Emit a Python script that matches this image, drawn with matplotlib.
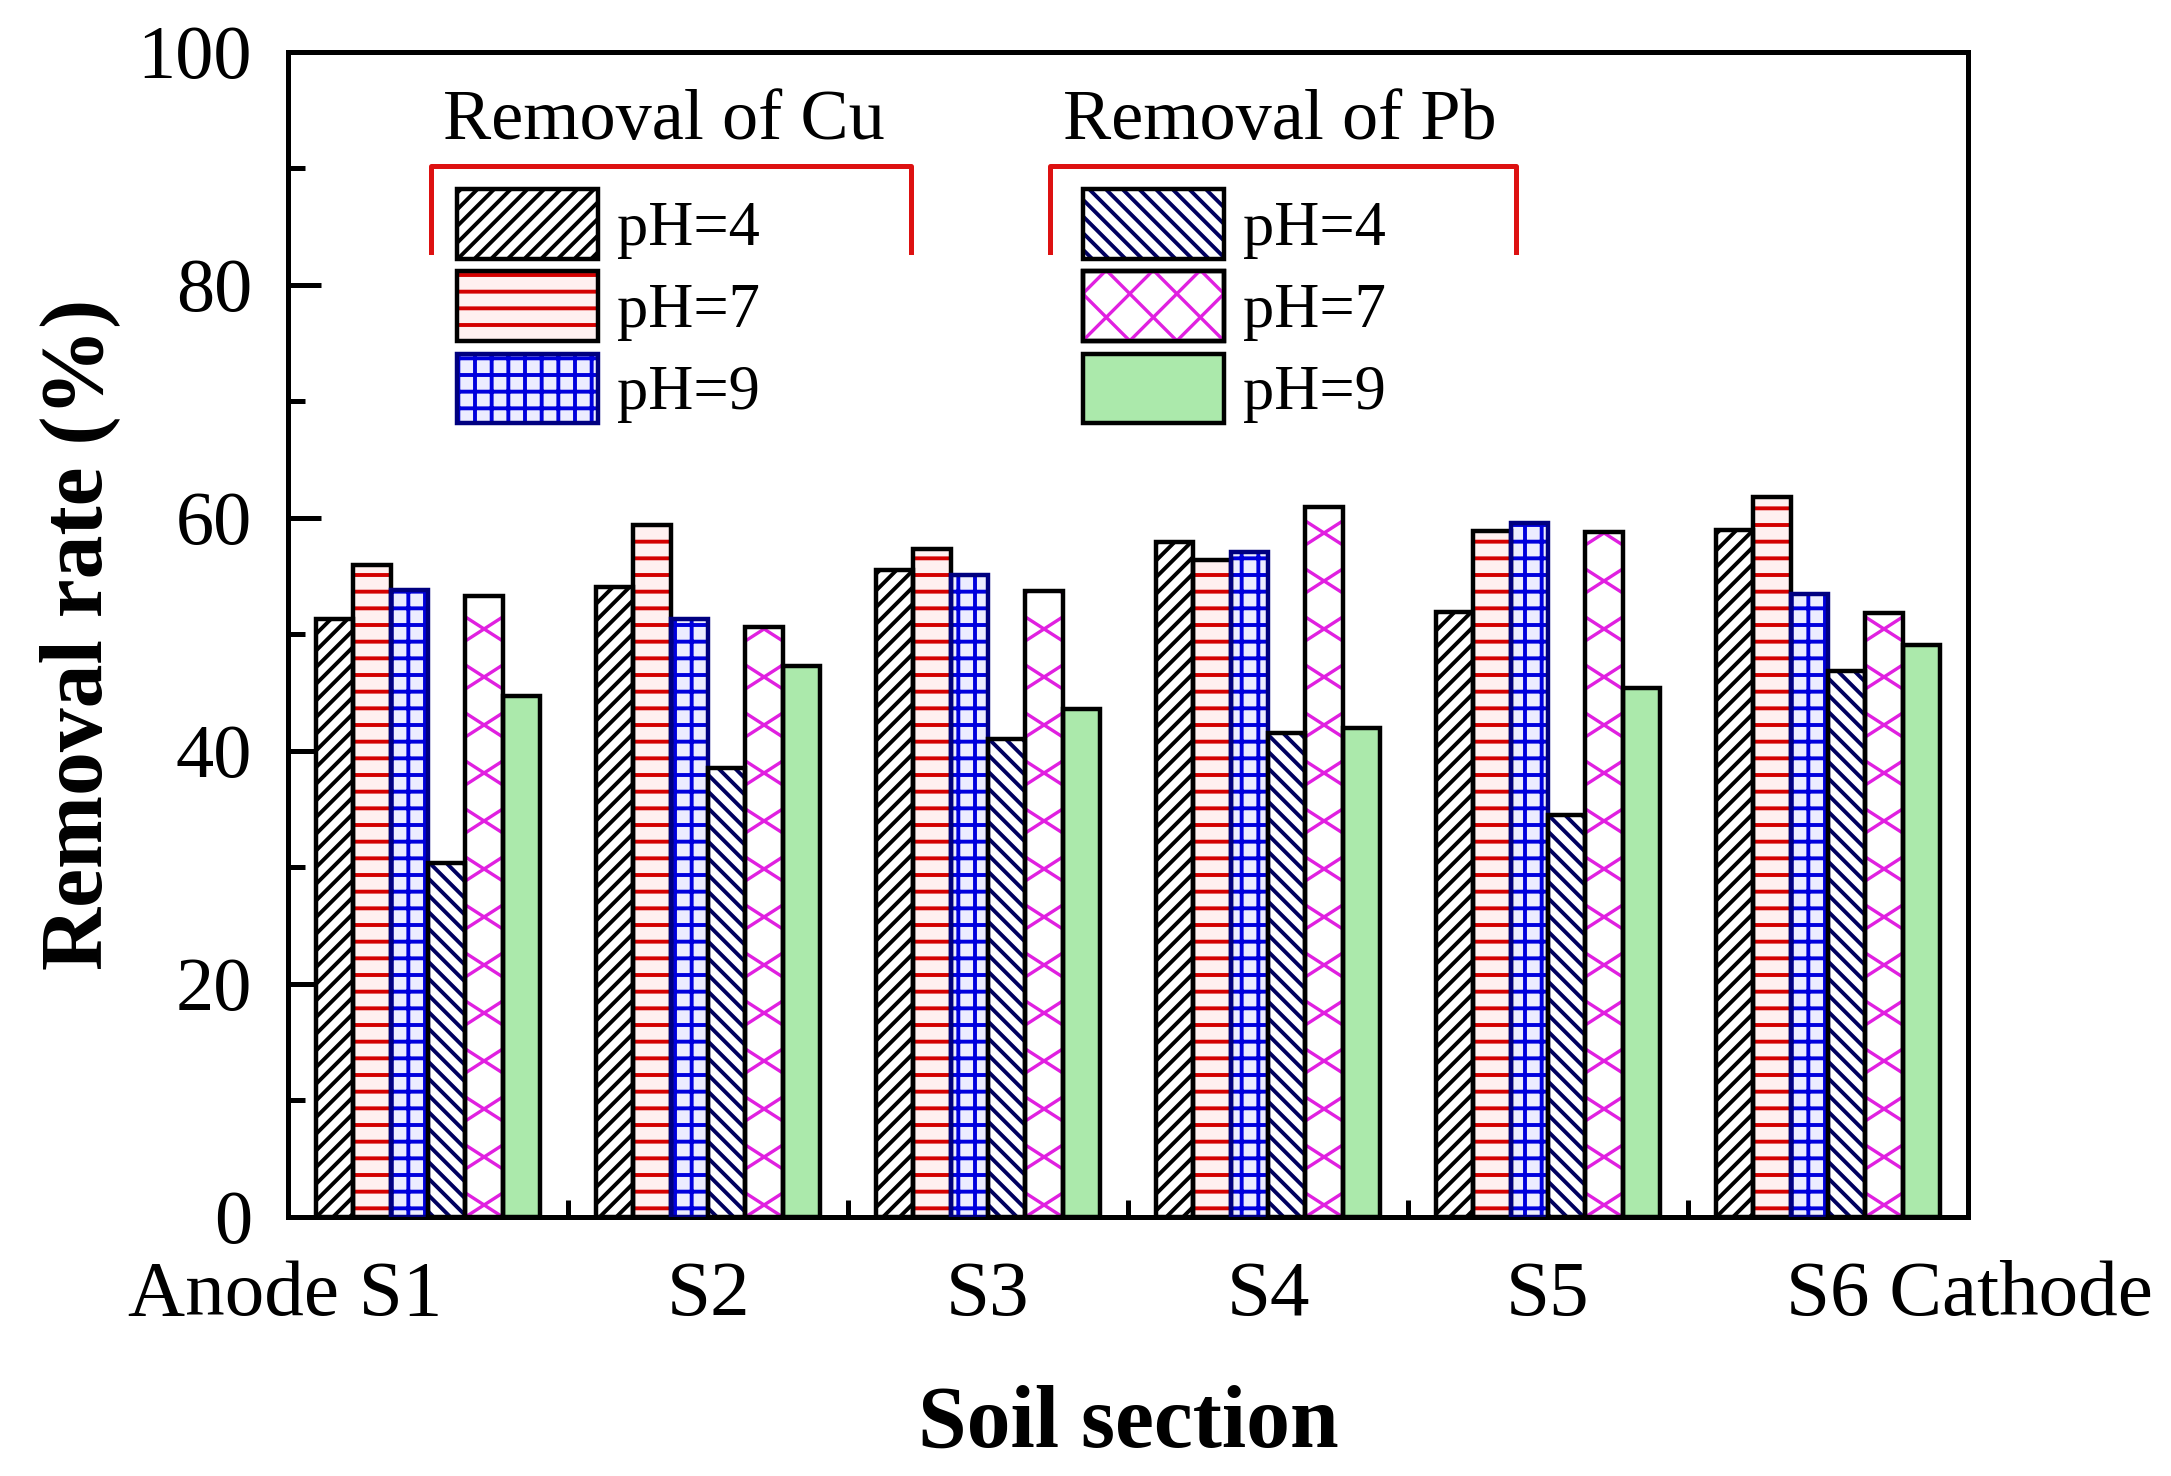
import numpy as np
import matplotlib
matplotlib.use("Agg")
import matplotlib.pyplot as plt
from matplotlib.patches import Rectangle
from matplotlib.lines import Line2D
from matplotlib.legend_handler import HandlerBase
from matplotlib.ticker import MultipleLocator, FixedLocator
import matplotlib.transforms as mtransforms

# data (removal rate, %)
sections = ["Anode S1", "S2", "S3", "S4", "S5", "S6 Cathode"]
ph_labels = ["pH=4", "pH=7", "pH=9"]
cu_ph4 = [51.3, 54.1, 55.5, 57.9, 51.9, 59.0]
cu_ph7 = [56.0, 59.4, 57.3, 56.4, 58.9, 61.8]
cu_ph9 = [53.8, 51.3, 55.1, 57.1, 59.6, 53.5]
pb_ph4 = [30.4, 38.5, 41.0, 41.5, 34.5, 46.9]
pb_ph7 = [53.3, 50.6, 53.7, 60.9, 58.8, 51.8]
pb_ph9 = [44.7, 47.3, 43.6, 42.0, 45.4, 49.1]

plt.rcParams["font.family"] = "Liberation Serif"
plt.rcParams["hatch.linewidth"] = 2.8

MAG = "#e020e0"
EDGE_LW = 3.2

fig = plt.figure(figsize=(21.71, 14.76), dpi=100)
ax = fig.add_axes([0.1327, 0.1755, 0.7738, 0.7893])

x = np.arange(len(sections)) + 0.5
w = 0.8 / 6

# (values, fill, hatch colour, hatch, outline colour)
series = [
    (cu_ph4, "white", "black", "//", "black"),
    (cu_ph7, "#fff0f0", "#d40000", "-", "black"),
    (cu_ph9, "#ececff", "#0000dd", "+", "#000080"),
    (pb_ph4, "white", "#000060", "\\\\", "black"),
    (pb_ph7, "white", "white", None, "black"),
    (pb_ph9, "#abe9ab", "#abe9ab", None, "black"),
]

handles = []
bars = []
for j, (vals, fc, hc, hatch, ec) in enumerate(series):
    xs = x + (j - 2.5) * w
    b1 = ax.bar(xs, vals, w, color=fc, edgecolor=hc, hatch=hatch, linewidth=0, zorder=2)
    b2 = ax.bar(xs, vals, w, fill=False, edgecolor=ec, linewidth=EDGE_LW, zorder=3)
    bars.append(b1)
    handles.append((b1.patches[0], b2.patches[0]))

# big cross pattern on the Pb pH=7 bars
unit_px = ax.bbox.height / 100.0
per = 48 / unit_px
for rect in bars[4].patches:
    x0, bw, h = rect.get_x(), rect.get_width(), rect.get_height()
    for k in range(int(h / per) + 2):
        yb = k * per
        for ys in ([yb, yb + per / 2], [yb + per / 2, yb]):
            ln, = ax.plot([x0, x0 + bw], ys, color=MAG, lw=2.4, zorder=2.5,
                          solid_capstyle="butt")
            ln.set_clip_path(rect)


class CrossHandler(HandlerBase):
    def create_artists(self, legend, orig_handle, xdescent, ydescent,
                       width, height, fontsize, trans):
        x0, y0 = -xdescent, -ydescent
        box = Rectangle((x0, y0), width, height, facecolor="white",
                        edgecolor="black", linewidth=EDGE_LW, transform=trans)
        arts = [box]
        step = width / 3.0
        for k in range(-3, 7):
            a = x0 + k * step
            for s in (1, -1):
                ln = Line2D([a, a + s * height * 1.2], [y0, y0 + height * 1.2],
                            color=MAG, lw=2.4, transform=trans)
                ln.set_clip_path(box)
                arts.append(ln)
        frame = Rectangle((x0, y0), width, height, fill=False,
                          edgecolor="black", linewidth=EDGE_LW, transform=trans)
        arts.append(frame)
        return arts


pb7_proxy = Rectangle((0, 0), 1, 1)
leg_kw = dict(frameon=False, fontsize=45, handlelength=2.26, handleheight=1.33,
              handletextpad=0.3, labelspacing=0.2, borderpad=0, borderaxespad=0,
              loc="upper left")
leg1 = ax.legend(handles[:3], ph_labels, bbox_to_anchor=(0.1006, 0.882), **leg_kw)
ax.add_artist(leg1)
ax.legend([handles[3], pb7_proxy, handles[5]], ph_labels,
          bbox_to_anchor=(0.473, 0.882), handler_map={pb7_proxy: CrossHandler()},
          **leg_kw)

ax.text(0.0923, 0.940, "Removal of Cu", transform=ax.transAxes, fontsize=52,
        ha="left", va="center")
ax.text(0.461, 0.940, "Removal of Pb", transform=ax.transAxes, fontsize=52,
        ha="left", va="center")
for xl, xr in [(0.0851, 0.3708), (0.4536, 0.731)]:
    ax.plot([xl, xl, xr, xr], [0.828, 0.902, 0.902, 0.828], color="#dd1111",
            lw=3.6, transform=ax.transAxes, clip_on=False, zorder=5)

ax.set_xlim(0, 6)
ax.set_ylim(0, 100)
ax.set_xticks(x)
ax.set_xticklabels(["", "S2", "S3", "S4", "S5", ""])
ax.xaxis.set_minor_locator(FixedLocator([1, 2, 3, 4, 5]))
ax.yaxis.set_major_locator(MultipleLocator(20))
ax.yaxis.set_minor_locator(MultipleLocator(10))
ax.tick_params(axis="x", which="major", length=0, pad=31, labelsize=57)
ax.tick_params(axis="x", which="minor", direction="in", length=12, width=3.6)
ax.tick_params(axis="y", which="major", direction="in", length=24, width=3.6,
               pad=26, labelsize=55)
ax.tick_params(axis="y", which="minor", direction="in", length=12, width=3.6)
for sp in ax.spines.values():
    sp.set_linewidth(3.6)

blend = mtransforms.blended_transform_factory(ax.transData, ax.transAxes)
pad_ax = -31 / 72 * 100 / ax.bbox.height
ax.text(0.5 + 14 / 280, pad_ax, sections[0], transform=blend, fontsize=57,
        ha="right", va="top")
ax.text(5.5 - 42 / 280, pad_ax, sections[-1], transform=blend, fontsize=57,
        ha="left", va="top")

ax.set_xlabel("Soil section", fontsize=63, fontweight="bold")
ax.xaxis.set_label_coords(0.5, -0.144)
ax.set_ylabel("Removal rate (%)", fontsize=63, fontweight="bold")
ax.yaxis.set_label_coords(-0.10, 0.5)

fig.savefig("out.png", dpi=100)
